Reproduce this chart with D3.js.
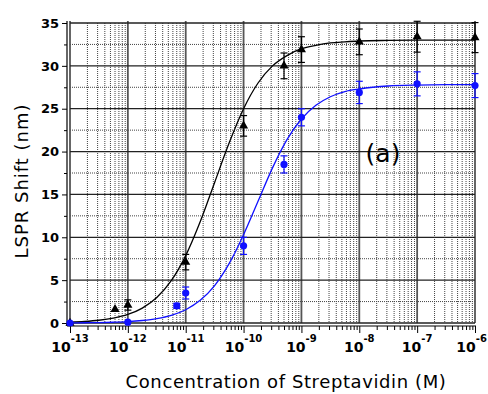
<!DOCTYPE html>
<html>
<head>
<meta charset="utf-8">
<script src="https://cdn.jsdelivr.net/npm/d3@7"></script>
<style>
  html, body { margin: 0; padding: 0; background: #fff; }
  svg { display: block; }
  text { font-family: "DejaVu Sans", "Noto Sans", sans-serif; }
</style>
</head>
<body>
<svg id="chart" width="488" height="394"></svg>
<script>
// ---- Data ----
const concBlack  = [1e-13, 6e-13, 1e-12, 1e-11, 1e-10, 5e-10, 1e-9, 1e-8, 1e-7, 1e-6];
const shiftBlack = [0, 1.6, 2.1, 7.1, 23.0, 30.0, 31.9, 32.8, 33.4, 33.3];
const errBlack   = [0, 0, 0.6, 0.9, 1.2, 1.5, 1.5, 1.5, 1.8, 1.75];

const concBlue   = [1e-13, 1e-12, 7e-12, 1e-11, 1e-10, 5e-10, 1e-9, 1e-8, 1e-7, 1e-6];
const shiftBlue  = [0, 0.1, 2.0, 3.5, 9.0, 18.5, 24.0, 26.9, 27.9, 27.7];
const errBlue    = [0, 0, 0.3, 0.7, 1.0, 1.0, 1.0, 1.3, 1.4, 1.4];

// fitted curves, read at quarter-decade concentrations (log10 of M)
const fitLogConc  = [-13, -12.75, -12.5, -12.25, -12, -11.75, -11.5, -11.25, -11, -10.75, -10.5, -10.25, -10, -9.75, -9.5, -9.25, -9, -8.75, -8.5, -8.25, -8, -7.5, -7, -6.5, -6];
const fitBlack    = [0.10, 0.18, 0.32, 0.57, 1.00, 1.74, 2.97, 4.93, 7.86, 11.8, 16.4, 21.0, 25.0, 28.0, 30.0, 31.2, 32.0, 32.4, 32.67, 32.8, 32.9, 32.97, 33.0, 33.0, 33.0];
const fitBlue     = [0.02, 0.03, 0.05, 0.09, 0.16, 0.29, 0.51, 0.89, 1.55, 2.64, 4.36, 6.92, 10.3, 14.2, 18.1, 21.4, 23.8, 25.4, 26.4, 27.0, 27.3, 27.65, 27.76, 27.8, 27.8];

const yTicks = [0, 5, 10, 15, 20, 25, 30, 35];
const decades = [-13, -12, -11, -10, -9, -8, -7, -6];

// ---- Layout ----
const svg = d3.select("#chart");
const x = d3.scaleLog().domain([1e-13, 1e-6]).range([70, 475]);
const y = d3.scaleLinear().domain([0, 35]).range([323, 23]);
const [x0, x1] = x.range();
const [yb, yt] = y.range();

const blue = "#1010ff";

// minor values
const minorX = [];
decades.slice(0, -1).forEach(e => { for (let k = 2; k <= 9; k++) minorX.push(k * Math.pow(10, e)); });
const minorY = d3.range(2.5, 35, 5);

const grid = svg.append("g");
grid.selectAll(".mx").data(minorX).join("line")
  .attr("x1", d => x(d)).attr("x2", d => x(d)).attr("y1", yt).attr("y2", yb)
  .attr("stroke", "#444").attr("stroke-width", 1).attr("stroke-dasharray", "1,1");
grid.selectAll(".my").data(minorY).join("line")
  .attr("x1", x0).attr("x2", x1).attr("y1", d => y(d)).attr("y2", d => y(d))
  .attr("stroke", "#444").attr("stroke-width", 1).attr("stroke-dasharray", "1,1");
grid.selectAll(".Mx").data(decades).join("line")
  .attr("x1", d => x(Math.pow(10, d))).attr("x2", d => x(Math.pow(10, d)))
  .attr("y1", yt - 2).attr("y2", yb)
  .attr("stroke", "#555").attr("stroke-width", 1.8);
grid.selectAll(".My").data(yTicks).join("line")
  .attr("x1", x0).attr("x2", x1).attr("y1", d => y(d)).attr("y2", d => y(d))
  .attr("stroke", "#222").attr("stroke-width", 1.3);

// ---- Axes ----
const axY = svg.append("g").attr("transform", "translate(67,0)")
  .call(d3.axisLeft(y).tickValues(yTicks).tickSize(5).tickPadding(3).tickFormat(d3.format("d")));
svg.append("g").attr("transform", "translate(67,0)")
  .call(d3.axisLeft(y).tickValues(minorY).tickSize(3).tickFormat(""))
  .select(".domain").remove();
axY.select(".domain").attr("d", `M0,${yt - 2}V${yb + 3}`).attr("stroke", "#000").attr("stroke-width", 1.2);
axY.selectAll("text").attr("font-size", 13).attr("font-weight", "bold").attr("fill", "#000")
  .attr("font-family", "DejaVu Sans, sans-serif");

const axX = svg.append("g").attr("transform", "translate(0,326)")
  .call(d3.axisBottom(x).tickValues(decades.map(e => Math.pow(10, e))).tickSize(7).tickFormat(""));
svg.append("g").attr("transform", "translate(0,326)")
  .call(d3.axisBottom(x).tickValues(minorX).tickSize(4).tickFormat(""))
  .select(".domain").remove();
axX.select(".domain").attr("d", `M${x0 - 3},0H${x1 + 1}`).attr("stroke", "#000").attr("stroke-width", 1.2);

// x tick labels with superscript exponents
const xl = svg.append("g").selectAll("text").data(decades).join("text")
  .attr("x", d => x(Math.pow(10, d))).attr("y", 352)
  .attr("text-anchor", "middle").attr("font-weight", "bold").attr("font-size", 14);
xl.append("tspan").text("10");
xl.append("tspan").attr("dy", -10).attr("font-size", 10).text(d => "-" + Math.abs(d));
// keep the last label inside the canvas
xl.each(function () {
  const bb = this.getBBox();
  const over = bb.x + bb.width - 487;
  if (over > 0) d3.select(this).attr("x", +d3.select(this).attr("x") - over);
});

// ---- Curves ----
const line = (vals) => d3.line()
  .x((d, i) => x(Math.pow(10, fitLogConc[i])))
  .y(d => y(d))
  .curve(d3.curveMonotoneX)(vals);

svg.append("path").attr("d", line(fitBlack)).attr("fill", "none").attr("stroke", "#000").attr("stroke-width", 1.3);
svg.append("path").attr("d", line(fitBlue)).attr("fill", "none").attr("stroke", blue).attr("stroke-width", 1.3);

// ---- Error bars ----
function errorBars(conc, vals, errs, color) {
  const g = svg.append("g").attr("stroke", color).attr("stroke-width", 1.2);
  conc.forEach((c, i) => {
    if (errs[i] <= 0) return;
    const cx = x(c), ylo = y(vals[i] - errs[i]), yhi = y(vals[i] + errs[i]);
    g.append("line").attr("x1", cx).attr("x2", cx).attr("y1", ylo).attr("y2", yhi);
    g.append("line").attr("x1", cx - 3.5).attr("x2", cx + 3.5).attr("y1", ylo).attr("y2", ylo);
    g.append("line").attr("x1", cx - 3.5).attr("x2", cx + 3.5).attr("y1", yhi).attr("y2", yhi);
  });
}
errorBars(concBlack, shiftBlack, errBlack, "#000");
errorBars(concBlue, shiftBlue, errBlue, blue);

// ---- Markers ----
const tri = d3.symbol().type(d3.symbolTriangle).size(36);
svg.append("g").selectAll("path").data(concBlack).join("path")
  .attr("d", tri)
  .attr("transform", (d, i) => `translate(${x(d)},${y(shiftBlack[i])})`)
  .attr("fill", "#000");

svg.append("g").selectAll("circle").data(concBlue).join("circle")
  .attr("cx", d => x(d)).attr("cy", (d, i) => y(shiftBlue[i])).attr("r", 3.6)
  .attr("fill", blue);

// ---- Labels ----
svg.append("text").attr("x", 383).attr("y", 162).attr("text-anchor", "middle")
  .attr("font-size", 25).text("(a)");

svg.append("text").attr("x", 286).attr("y", 388).attr("text-anchor", "middle")
  .attr("font-size", 18).attr("letter-spacing", 0.6).text("Concentration of Streptavidin (M)");

svg.append("text").attr("transform", "translate(28,181) rotate(-90)")
  .attr("text-anchor", "middle").attr("font-size", 18).attr("letter-spacing", 1).text("LSPR Shift (nm)");
</script>
</body>
</html>
